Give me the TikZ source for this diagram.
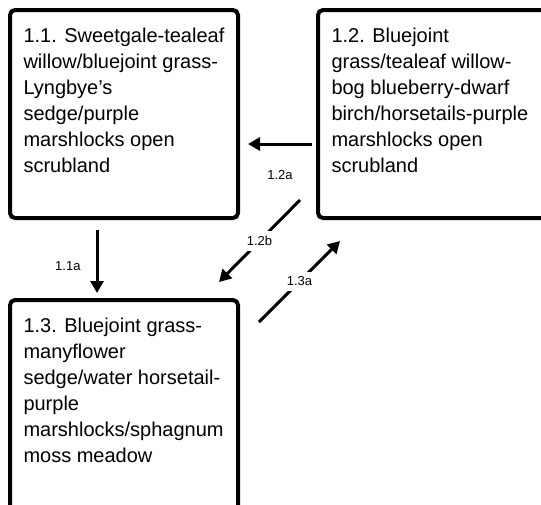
\documentclass[tikz,border=0pt]{standalone}
\usepackage{fontspec}
\setmainfont{Liberation Sans}
\usetikzlibrary{arrows.meta}

\begin{document}
\begin{tikzpicture}[x=1pt,y=-1pt]
   \tikzstyle{state}=[draw, line width=4pt, rounded corners=5pt, anchor=north west, inner xsep=13.5pt, inner ysep=18.5pt, font=\fontsize{20}{26}\selectfont]
   \tikzstyle{trans}=[line width=3pt, -{Triangle[length=12pt,width=13pt]}]
   \tikzstyle{code}=[font=\fontsize{13}{15}\selectfont, fill=white, inner sep=5pt]

\useasboundingbox (0,0) rectangle (541,504);
\clip (0,0) rectangle (541,504);

\node[state] (s11) at (8,8) {\parbox[t][171pt][t]{201pt}{\raggedright
    1.1. Sweetgale-tealeaf\\ willow/bluejoint grass-\\ Lyngbye’s\\ sedge/purple\\ marshlocks open\\ scrubland}};
\node[state] (s12) at (316,8) {\parbox[t][171pt][t]{217pt}{\raggedright
    1.2. Bluejoint\\ grass/tealeaf willow-\\ bog blueberry-dwarf\\ birch/horsetails-purple\\ marshlocks open\\ scrubland}};
\node[state] (s13) at (8,298) {\parbox[t][195pt][t]{201pt}{\raggedright
    1.3. Bluejoint grass-\\ manyflower\\ sedge/water horsetail-\\ purple\\ marshlocks/sphagnum\\ moss meadow}};

\draw[trans] ([xshift=-4pt,yshift=-30pt]s12.west) -- ([xshift=8pt,yshift=-30pt]s11.east)
    node[code, midway, yshift=-31pt, fill=none] {1.2a};
\draw[trans] ([xshift=-27pt,yshift=-10pt]s11.south) -- ([xshift=-27pt,yshift=5pt]s13.north)
    node[code, midway, left=10pt, yshift=-5pt, fill=none] {1.1a};
\draw[trans] ([xshift=-16pt,yshift=20pt]s12.south west) -- ([xshift=-21pt,yshift=16pt]s13.north east)
    node[code, midway] {1.2b};
\draw[trans] ([xshift=19pt,yshift=-24pt]s13.north east) -- ([xshift=24pt,yshift=-21pt]s12.south west)
    node[code, midway] {1.3a};

\end{tikzpicture}
\end{document}
